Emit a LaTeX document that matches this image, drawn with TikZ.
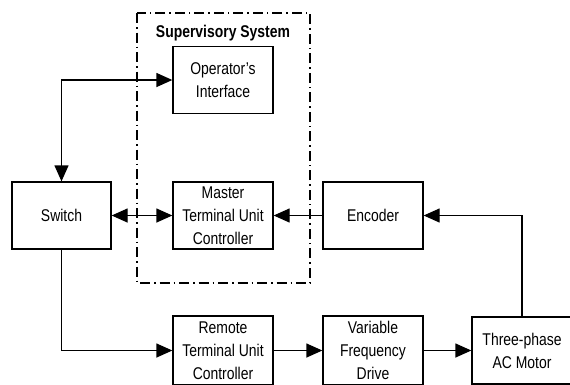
\documentclass[tikz,border=0pt]{standalone}
\usepackage{fontspec}
\setmainfont[FakeStretch=0.82]{Liberation Sans}
\usetikzlibrary{positioning,calc,arrows.meta}

\tikzset{
	block/.style={rectangle,draw,line width=1.3pt,minimum width=100pt,minimum height=67pt,align=center,inner sep=2pt},
	link/.style={-{Triangle[length=16pt,width=14pt]},line width=1.3pt},
	duplex/.style={{Triangle[length=16pt,width=14pt]}-{Triangle[length=16pt,width=14pt]},line width=1.3pt},
}

\begin{document}
\begin{tikzpicture}[x=1pt,y=-1pt,font=\fontsize{17}{23}\selectfont]
	\useasboundingbox (0,0) rectangle (570,384);
	% supervisory system frame
	\draw[line width=1.3pt,dash pattern=on 10pt off 4pt on 1.5pt off 4pt] (137,13) rectangle (310,283);
	\node[font=\fontsize{17}{23}\selectfont\bfseries] (sup) at (223,33) {Supervisory System};
	
	\node[block] (ops) at (223,80) {Operator's\\Interface};
	\node[block,minimum width=99pt] (switch) at (61.5,215.5) {Switch};
	\node[block] (master) at (223,215.5) {Master\\Terminal Unit\\Controller};
	\node[block] (encoder) at (373,215.5) {Encoder};
	\node[block,minimum height=69pt] (remote) at (223,350.5) {Remote\\Terminal Unit\\Controller};
	\node[block,minimum height=69pt] (vfd) at (373,350.5) {Variable\\Frequency\\Drive};
	\node[block] (motor) at (522,350.5) {Three-phase\\AC Motor};
	
	\draw[duplex] (switch.north) |- (ops.west);
	\draw[duplex] (switch) -- (master);
	\draw[link] (encoder) -- (master);
	\draw[link] (motor.north) |- (encoder.east);
	\draw[link] (switch.south) |- (remote.west);
	\draw[link] (remote) -- (vfd);
	\draw[link] (vfd) -- (motor);
\end{tikzpicture}
\end{document}
